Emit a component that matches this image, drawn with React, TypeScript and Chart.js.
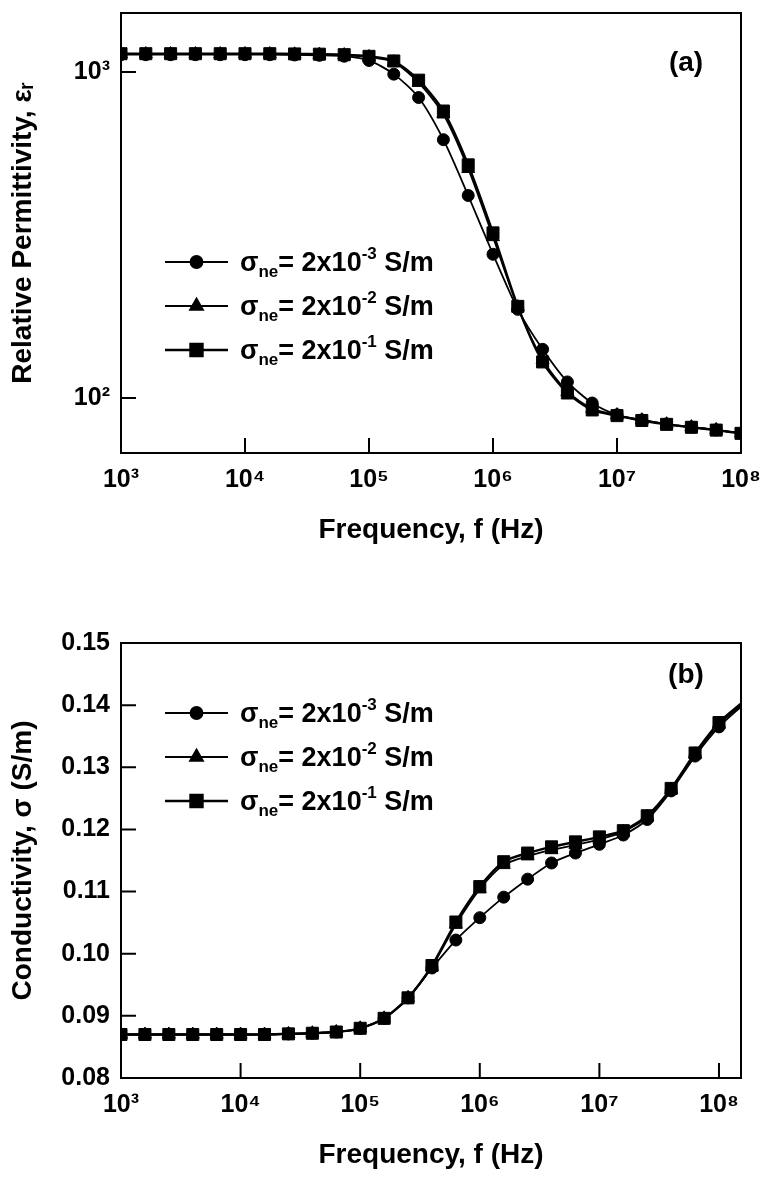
import React, { useEffect, useRef } from "react";
import { Chart, registerables } from "chart.js";
import { drawPoint } from "chart.js/helpers";

Chart.register(...registerables);

const FONT = "'Liberation Sans', Arial, Helvetica, sans-serif";

// ---------- (a) Relative permittivity ----------
const freqA = [
  1e3, 1.585e3, 2.512e3, 3.981e3, 6.31e3,
  1e4, 1.585e4, 2.512e4, 3.981e4, 6.31e4,
  1e5, 1.585e5, 2.512e5, 3.981e5, 6.31e5,
  1e6, 1.585e6, 2.512e6, 3.981e6, 6.31e6,
  1e7, 1.585e7, 2.512e7, 3.981e7, 6.31e7,
  1e8,
];
const permLow = [1130, 1130, 1130, 1130, 1130, 1130, 1130, 1128, 1125, 1118, 1085, 985, 835, 620, 418, 276, 187, 141, 112, 96.5, 88.8, 85.6, 83.2, 81.4, 79.8, 78.0];
const permMid = [1135, 1135, 1135, 1135, 1135, 1135, 1135, 1133, 1131, 1127, 1112, 1072, 928, 742, 505, 312, 190, 131, 104.5, 92.8, 88.6, 85.5, 83.1, 81.4, 79.8, 78.0];
const permHigh = [1138, 1138, 1138, 1138, 1138, 1138, 1138, 1136, 1134, 1130, 1117, 1081, 944, 759, 519, 321, 191, 129, 103.6, 91.9, 88.3, 85.3, 83.0, 81.3, 79.7, 77.9];
const xTicksA = [1e3, 1e4, 1e5, 1e6, 1e7, 1e8];
const xTickLabels = ["10³", "10⁴", "10⁵", "10⁶", "10⁷", "10⁸"];
const yTicksA = [100, 1000];
const yTickLabelsA = ["10²", "10³"];

// ---------- (b) Conductivity ----------
const freqB = [
  1e3, 1.585e3, 2.512e3, 3.981e3, 6.31e3,
  1e4, 1.585e4, 2.512e4, 3.981e4, 6.31e4,
  1e5, 1.585e5, 2.512e5, 3.981e5, 6.31e5,
  1e6, 1.585e6, 2.512e6, 3.981e6, 6.31e6,
  1e7, 1.585e7, 2.512e7, 3.981e7, 6.31e7,
  1e8, 1.585e8,
];
const condLow = [0.087, 0.087, 0.087, 0.087, 0.087, 0.087, 0.087, 0.0871, 0.0872, 0.0874, 0.088, 0.0896, 0.0929, 0.0977, 0.1022, 0.1058, 0.1091, 0.112, 0.1146, 0.1162, 0.1176, 0.1191, 0.1216, 0.1262, 0.1318, 0.1365, 0.14];
const condMid = [0.087, 0.087, 0.087, 0.087, 0.087, 0.087, 0.087, 0.0871, 0.0872, 0.0874, 0.088, 0.0896, 0.0929, 0.0979, 0.1047, 0.1104, 0.1143, 0.1157, 0.1167, 0.1175, 0.1184, 0.1196, 0.122, 0.1264, 0.1321, 0.1369, 0.1402];
const condHigh = [0.087, 0.087, 0.087, 0.087, 0.087, 0.087, 0.087, 0.0871, 0.0872, 0.0874, 0.088, 0.0896, 0.0929, 0.0981, 0.1051, 0.1108, 0.1148, 0.1162, 0.1172, 0.118, 0.1188, 0.1198, 0.1222, 0.1266, 0.1323, 0.1372, 0.1405];
const xTicksB = [1e3, 1e4, 1e5, 1e6, 1e7, 1e8];
const yTicksB = [0.08, 0.09, 0.1, 0.11, 0.12, 0.13, 0.14, 0.15];
const yTickLabelsB = ["0.08", "0.09", "0.10", "0.11", "0.12", "0.13", "0.14", "0.15"];

// ---------- series ----------
const legendMantissa = "2x10";
const legendExponents = ["-3", "-2", "-1"];
const pointStyles = ["circle", "triangle", "rect"];
const pointRadii = [6, 7.5, 8.5];
const lineWidths = [1.8, 1.8, 2.4];

const W = 763;
const HA = 580;
const HB = 597;

const decor = {
  id: "decor",
  beforeDatasetsDraw(chart: any) {
    const { ctx, chartArea: a } = chart;
    ctx.save();
    ctx.strokeStyle = "#000";
    ctx.lineWidth = 2;
    ctx.strokeRect(a.left, a.top, a.right - a.left, a.bottom - a.top);
    const xs = chart.scales.x;
    const ys = chart.scales.y;
    ctx.beginPath();
    xs.ticks.forEach((t: any) => {
      const p = xs.getPixelForValue(t.value);
      if (p > a.left + 3 && p < a.right - 3) {
        ctx.moveTo(p, a.bottom);
        ctx.lineTo(p, a.bottom - 15);
      }
    });
    ys.ticks.forEach((t: any) => {
      const p = ys.getPixelForValue(t.value);
      if (p > a.top + 3 && p < a.bottom - 3) {
        ctx.moveTo(a.left, p);
        ctx.lineTo(a.left + 15, p);
      }
    });
    ctx.stroke();
    ctx.restore();
  },
  afterDatasetsDraw(chart: any, _args: any, opts: any) {
    const { ctx } = chart;
    ctx.save();
    ctx.fillStyle = "#000";
    ctx.strokeStyle = "#000";
    ctx.textAlign = "center";
    ctx.textBaseline = "middle";
    ctx.font = `bold 28px ${FONT}`;
    ctx.fillText(opts.tag, opts.tagX, opts.tagY);

    const lx = opts.legendX;
    const len = opts.lineLen;
    chart.data.datasets.forEach((_ds: any, i: number) => {
      const y = opts.legendRows[i];
      ctx.lineWidth = lineWidths[i];
      ctx.beginPath();
      ctx.moveTo(lx, y);
      ctx.lineTo(lx + len, y);
      ctx.stroke();
      drawPoint(ctx, { pointStyle: pointStyles[i], radius: pointRadii[i], rotation: 0, borderWidth: 1 } as any, lx + len / 2, y);

      ctx.textAlign = "left";
      ctx.textBaseline = "alphabetic";
      const base = y + 9;
      let x = opts.textX;
      const main = `bold 27px ${FONT}`;
      const small = `bold 17px ${FONT}`;
      ctx.font = main;
      ctx.fillText("σ", x, base);
      x += ctx.measureText("σ").width;
      ctx.font = small;
      ctx.fillText("ne", x, base + 6);
      x += ctx.measureText("ne").width;
      ctx.font = main;
      const m = "= " + legendMantissa;
      ctx.fillText(m, x, base);
      x += ctx.measureText(m).width;
      ctx.font = small;
      ctx.fillText(legendExponents[i], x, base - 12);
      x += ctx.measureText(legendExponents[i]).width;
      ctx.font = main;
      ctx.fillText(" S/m", x, base);
    });
    ctx.restore();
  },
};

function makeDatasets(xs: number[], series: number[][], hideFrom: number) {
  return series.map((vals, i) => ({
    label: legendExponents[i],
    data: vals.map((v, j) => ({ x: xs[j], y: v })),
    borderColor: "#000",
    backgroundColor: "#000",
    borderWidth: lineWidths[i],
    pointStyle: pointStyles[i],
    pointRadius: (c: any) => (c.dataIndex >= hideFrom ? 0 : pointRadii[i]),
    pointBorderWidth: 1,
    pointBorderColor: "#000",
    pointBackgroundColor: "#000",
    tension: 0.25,
    fill: false,
  }));
}

const tickFont = { family: FONT, size: 25, weight: "bold" as const };
const titleFont = { family: FONT, size: 28, weight: "bold" as const };

function baseX(ticks: number[], min: number, max: number, height: number, titlePadBottom: number) {
  return {
    type: "logarithmic" as const,
    min,
    max,
    afterBuildTicks: (s: any) => {
      s.ticks = ticks.map((v) => ({ value: v }));
    },
    afterFit: (s: any) => {
      s.height = height;
      s.paddingLeft = 0;
      s.paddingRight = 0;
    },
    grid: { display: false, drawTicks: false },
    border: { display: false },
    ticks: {
      autoSkip: false,
      maxRotation: 0,
      minRotation: 0,
      padding: 12,
      color: "#000",
      font: tickFont,
      callback: (_v: any, i: number) => xTickLabels[i],
    },
    title: {
      display: true,
      text: "Frequency, f (Hz)",
      color: "#000",
      font: titleFont,
      padding: { top: 0, bottom: titlePadBottom },
    },
  };
}

function ChartA() {
  const ref = useRef<HTMLCanvasElement>(null);
  useEffect(() => {
    const chart = new Chart(ref.current as HTMLCanvasElement, {
      type: "line",
      data: { datasets: makeDatasets(freqA, [permLow, permMid, permHigh], 999) as any },
      options: {
        responsive: false,
        animation: false,
        devicePixelRatio: 1,
        layout: { padding: { left: 0, right: W - 741, top: 13, bottom: 0 } },
        plugins: {
          legend: { display: false },
          tooltip: { enabled: false },
          decor: { tag: "(a)", tagX: 686, tagY: 63, legendX: 165, lineLen: 63, textX: 240, legendRows: [262, 306, 350] },
        } as any,
        scales: {
          x: baseX(xTicksA, 1e3, 1e8, HA - 453, 33) as any,
          y: {
            type: "logarithmic",
            min: 67.8,
            max: 1517,
            afterBuildTicks: (s: any) => {
              s.ticks = yTicksA.map((v) => ({ value: v }));
            },
            afterFit: (s: any) => {
              s.width = 121;
              s.paddingTop = 0;
              s.paddingBottom = 0;
            },
            grid: { display: false, drawTicks: false },
            border: { display: false },
            ticks: {
              autoSkip: false,
              padding: 11,
              color: "#000",
              font: tickFont,
              callback: (_v: any, i: number) => yTickLabelsA[i],
            },
            title: {
              display: true,
              text: "Relative Permittivity, εᵣ",
              color: "#000",
              font: titleFont,
              padding: { top: 6, bottom: 0 },
            },
          } as any,
        },
      },
      plugins: [decor as any],
    });
    return () => chart.destroy();
  }, []);
  return <canvas ref={ref} width={W} height={HA} style={{ position: "absolute", left: 0, top: 0, width: W, height: HA }} />;
}

function ChartB() {
  const ref = useRef<HTMLCanvasElement>(null);
  useEffect(() => {
    const chart = new Chart(ref.current as HTMLCanvasElement, {
      type: "line",
      data: { datasets: makeDatasets(freqB, [condLow, condMid, condHigh], 26) as any },
      options: {
        responsive: false,
        animation: false,
        devicePixelRatio: 1,
        layout: { padding: { left: 0, right: W - 741, top: 63, bottom: 0 } },
        plugins: {
          legend: { display: false },
          tooltip: { enabled: false },
          decor: { tag: "(b)", tagX: 686, tagY: 95, legendX: 165, lineLen: 63, textX: 240, legendRows: [133, 177, 221] },
        } as any,
        scales: {
          x: baseX(xTicksB, 1e3, 1.528e8, HB - 498, 5) as any,
          y: {
            type: "linear",
            min: 0.08,
            max: 0.15,
            afterBuildTicks: (s: any) => {
              s.ticks = yTicksB.map((v) => ({ value: v }));
            },
            afterFit: (s: any) => {
              s.width = 121;
              s.paddingTop = 0;
              s.paddingBottom = 0;
            },
            grid: { display: false, drawTicks: false },
            border: { display: false },
            ticks: {
              autoSkip: false,
              padding: 11,
              color: "#000",
              font: tickFont,
              callback: (_v: any, i: number) => yTickLabelsB[i],
            },
            title: {
              display: true,
              text: "Conductivity, σ (S/m)",
              color: "#000",
              font: titleFont,
              padding: { top: 6, bottom: 0 },
            },
          } as any,
        },
      },
      plugins: [decor as any],
    });
    return () => chart.destroy();
  }, []);
  return <canvas ref={ref} width={W} height={HB} style={{ position: "absolute", left: 0, top: HA, width: W, height: HB }} />;
}

export default function App() {
  return (
    <div style={{ position: "absolute", left: 0, top: 0, width: W, height: HA + HB, background: "#fff" }}>
      <ChartA />
      <ChartB />
    </div>
  );
}
